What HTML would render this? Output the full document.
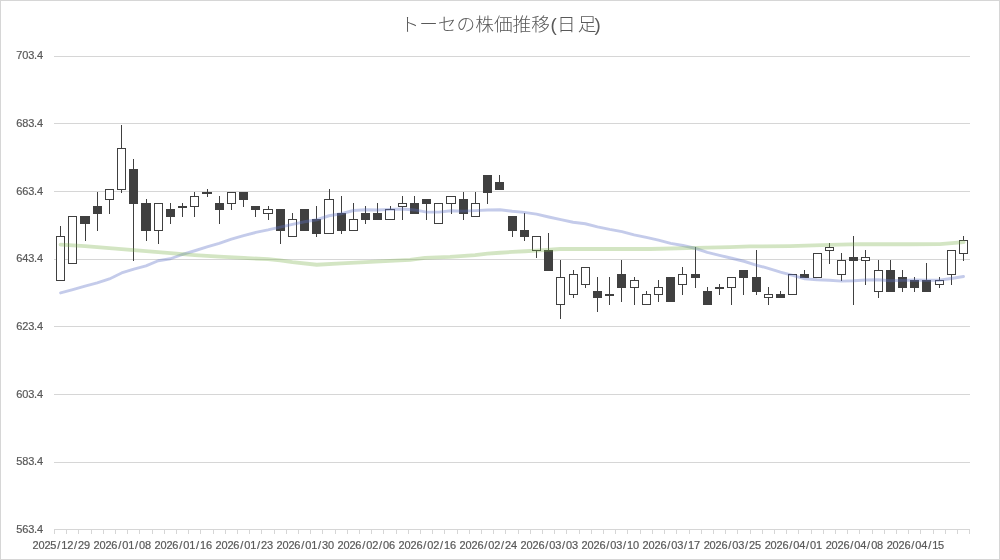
<!DOCTYPE html>
<html lang="ja"><head><meta charset="utf-8"><title>トーセの株価推移(日足)</title>
<style>html,body{margin:0;padding:0;background:#fff}svg{display:block}</style></head>
<body>
<svg width="1000" height="560" viewBox="0 0 1000 560">
<rect x="0" y="0" width="1000" height="560" fill="#fff"/>
<rect x="0.5" y="0.5" width="999" height="559" fill="none" stroke="#d6d6d6" stroke-width="1"/>
<g stroke="#d6d6d6" stroke-width="1" shape-rendering="crispEdges">
<line x1="54" y1="56.5" x2="970" y2="56.5"/>
<line x1="54" y1="123.5" x2="970" y2="123.5"/>
<line x1="54" y1="191.5" x2="970" y2="191.5"/>
<line x1="54" y1="259.5" x2="970" y2="259.5"/>
<line x1="54" y1="326.5" x2="970" y2="326.5"/>
<line x1="54" y1="394.5" x2="970" y2="394.5"/>
<line x1="54" y1="462.5" x2="970" y2="462.5"/>
<line x1="54" y1="529.5" x2="970" y2="529.5"/>
<line x1="54.5" y1="529" x2="54.5" y2="534"/>
<line x1="66.5" y1="529" x2="66.5" y2="534"/>
<line x1="78.5" y1="529" x2="78.5" y2="534"/>
<line x1="91.5" y1="529" x2="91.5" y2="534"/>
<line x1="103.5" y1="529" x2="103.5" y2="534"/>
<line x1="115.5" y1="529" x2="115.5" y2="534"/>
<line x1="127.5" y1="529" x2="127.5" y2="534"/>
<line x1="139.5" y1="529" x2="139.5" y2="534"/>
<line x1="152.5" y1="529" x2="152.5" y2="534"/>
<line x1="164.5" y1="529" x2="164.5" y2="534"/>
<line x1="176.5" y1="529" x2="176.5" y2="534"/>
<line x1="188.5" y1="529" x2="188.5" y2="534"/>
<line x1="200.5" y1="529" x2="200.5" y2="534"/>
<line x1="213.5" y1="529" x2="213.5" y2="534"/>
<line x1="225.5" y1="529" x2="225.5" y2="534"/>
<line x1="237.5" y1="529" x2="237.5" y2="534"/>
<line x1="249.5" y1="529" x2="249.5" y2="534"/>
<line x1="261.5" y1="529" x2="261.5" y2="534"/>
<line x1="274.5" y1="529" x2="274.5" y2="534"/>
<line x1="286.5" y1="529" x2="286.5" y2="534"/>
<line x1="298.5" y1="529" x2="298.5" y2="534"/>
<line x1="310.5" y1="529" x2="310.5" y2="534"/>
<line x1="322.5" y1="529" x2="322.5" y2="534"/>
<line x1="335.5" y1="529" x2="335.5" y2="534"/>
<line x1="347.5" y1="529" x2="347.5" y2="534"/>
<line x1="359.5" y1="529" x2="359.5" y2="534"/>
<line x1="371.5" y1="529" x2="371.5" y2="534"/>
<line x1="383.5" y1="529" x2="383.5" y2="534"/>
<line x1="396.5" y1="529" x2="396.5" y2="534"/>
<line x1="408.5" y1="529" x2="408.5" y2="534"/>
<line x1="420.5" y1="529" x2="420.5" y2="534"/>
<line x1="432.5" y1="529" x2="432.5" y2="534"/>
<line x1="444.5" y1="529" x2="444.5" y2="534"/>
<line x1="457.5" y1="529" x2="457.5" y2="534"/>
<line x1="469.5" y1="529" x2="469.5" y2="534"/>
<line x1="481.5" y1="529" x2="481.5" y2="534"/>
<line x1="493.5" y1="529" x2="493.5" y2="534"/>
<line x1="505.5" y1="529" x2="505.5" y2="534"/>
<line x1="518.5" y1="529" x2="518.5" y2="534"/>
<line x1="530.5" y1="529" x2="530.5" y2="534"/>
<line x1="542.5" y1="529" x2="542.5" y2="534"/>
<line x1="554.5" y1="529" x2="554.5" y2="534"/>
<line x1="566.5" y1="529" x2="566.5" y2="534"/>
<line x1="579.5" y1="529" x2="579.5" y2="534"/>
<line x1="591.5" y1="529" x2="591.5" y2="534"/>
<line x1="603.5" y1="529" x2="603.5" y2="534"/>
<line x1="615.5" y1="529" x2="615.5" y2="534"/>
<line x1="627.5" y1="529" x2="627.5" y2="534"/>
<line x1="640.5" y1="529" x2="640.5" y2="534"/>
<line x1="652.5" y1="529" x2="652.5" y2="534"/>
<line x1="664.5" y1="529" x2="664.5" y2="534"/>
<line x1="676.5" y1="529" x2="676.5" y2="534"/>
<line x1="689.5" y1="529" x2="689.5" y2="534"/>
<line x1="701.5" y1="529" x2="701.5" y2="534"/>
<line x1="713.5" y1="529" x2="713.5" y2="534"/>
<line x1="725.5" y1="529" x2="725.5" y2="534"/>
<line x1="737.5" y1="529" x2="737.5" y2="534"/>
<line x1="750.5" y1="529" x2="750.5" y2="534"/>
<line x1="762.5" y1="529" x2="762.5" y2="534"/>
<line x1="774.5" y1="529" x2="774.5" y2="534"/>
<line x1="786.5" y1="529" x2="786.5" y2="534"/>
<line x1="798.5" y1="529" x2="798.5" y2="534"/>
<line x1="811.5" y1="529" x2="811.5" y2="534"/>
<line x1="823.5" y1="529" x2="823.5" y2="534"/>
<line x1="835.5" y1="529" x2="835.5" y2="534"/>
<line x1="847.5" y1="529" x2="847.5" y2="534"/>
<line x1="859.5" y1="529" x2="859.5" y2="534"/>
<line x1="872.5" y1="529" x2="872.5" y2="534"/>
<line x1="884.5" y1="529" x2="884.5" y2="534"/>
<line x1="896.5" y1="529" x2="896.5" y2="534"/>
<line x1="908.5" y1="529" x2="908.5" y2="534"/>
<line x1="920.5" y1="529" x2="920.5" y2="534"/>
<line x1="933.5" y1="529" x2="933.5" y2="534"/>
<line x1="945.5" y1="529" x2="945.5" y2="534"/>
<line x1="957.5" y1="529" x2="957.5" y2="534"/>
<line x1="969.5" y1="529" x2="969.5" y2="534"/>
</g>
<g font-family="'Liberation Sans', sans-serif" font-size="11" fill="#595959" stroke="#595959" stroke-width="0.2" letter-spacing="-0.15" text-anchor="end">
<text x="43" y="58.8">703.4</text>
<text x="43" y="126.8">683.4</text>
<text x="43" y="194.8">663.4</text>
<text x="43" y="261.8">643.4</text>
<text x="43" y="329.8">623.4</text>
<text x="43" y="397.8">603.4</text>
<text x="43" y="464.8">583.4</text>
<text x="43" y="532.8">563.4</text>
</g>
<g font-family="'Liberation Sans', sans-serif" font-size="11" fill="#595959" stroke="#595959" stroke-width="0.2">
<text x="32.53 38.46 44.39 50.32 57.20 61.20 67.13 74.01 78.01 83.94" y="549">2025/12/29</text>
<text x="93.54 99.47 105.40 111.33 118.21 122.21 128.14 135.02 139.02 144.95" y="549">2026/01/08</text>
<text x="154.55 160.48 166.41 172.34 179.21 183.22 189.15 196.02 200.03 205.96" y="549">2026/01/16</text>
<text x="215.56 221.49 227.42 233.35 240.22 244.23 250.16 257.03 261.04 266.97" y="549">2026/01/23</text>
<text x="276.57 282.50 288.43 294.36 301.23 305.24 311.17 318.04 322.05 327.98" y="549">2026/01/30</text>
<text x="337.58 343.51 349.44 355.37 362.24 366.25 372.18 379.05 383.06 388.99" y="549">2026/02/06</text>
<text x="398.59 404.52 410.45 416.38 423.25 427.26 433.19 440.06 444.07 450.00" y="549">2026/02/16</text>
<text x="459.59 465.52 471.45 477.38 484.26 488.26 494.19 501.07 505.07 511.00" y="549">2026/02/24</text>
<text x="520.60 526.53 532.46 538.39 545.27 549.27 555.20 562.08 566.08 572.01" y="549">2026/03/03</text>
<text x="581.61 587.54 593.47 599.40 606.28 610.28 616.21 623.09 627.09 633.02" y="549">2026/03/10</text>
<text x="642.62 648.55 654.48 660.41 667.29 671.29 677.22 684.10 688.10 694.03" y="549">2026/03/17</text>
<text x="703.63 709.56 715.49 721.42 728.30 732.30 738.23 745.11 749.11 755.04" y="549">2026/03/25</text>
<text x="764.64 770.57 776.50 782.43 789.31 793.31 799.24 806.12 810.12 816.05" y="549">2026/04/01</text>
<text x="825.65 831.58 837.51 843.44 850.31 854.32 860.25 867.12 871.13 877.06" y="549">2026/04/08</text>
<text x="886.66 892.59 898.52 904.45 911.32 915.33 921.26 928.13 932.14 938.07" y="549">2026/04/15</text>
</g>
<text x="400.5 419.2 437.8 456.5 475.2 493.9 512.5 531.2 550.4 557.1 577.7 594.4" y="31.2" font-family="'Liberation Sans', 'Noto Sans CJK JP', sans-serif" font-size="18.67" font-weight="300" fill="#595959">トーセの株価推移(日足)</text>
<g shape-rendering="crispEdges">
<line x1="60.5" y1="226" x2="60.5" y2="281" stroke="#404040" stroke-width="1"/>
<rect x="56.5" y="236.5" width="8" height="44" fill="#fff" stroke="#404040" stroke-width="1"/>
<line x1="72.5" y1="216" x2="72.5" y2="264" stroke="#404040" stroke-width="1"/>
<rect x="68.5" y="216.5" width="8" height="47" fill="#fff" stroke="#404040" stroke-width="1"/>
<line x1="85.5" y1="216" x2="85.5" y2="241" stroke="#404040" stroke-width="1"/>
<rect x="80.5" y="216.5" width="9" height="7" fill="#404040" stroke="#404040" stroke-width="1"/>
<line x1="97.5" y1="192" x2="97.5" y2="231" stroke="#404040" stroke-width="1"/>
<rect x="93.5" y="206.5" width="8" height="7" fill="#404040" stroke="#404040" stroke-width="1"/>
<line x1="109.5" y1="189" x2="109.5" y2="214" stroke="#404040" stroke-width="1"/>
<rect x="105.5" y="189.5" width="8" height="10" fill="#fff" stroke="#404040" stroke-width="1"/>
<line x1="121.5" y1="125" x2="121.5" y2="193" stroke="#404040" stroke-width="1"/>
<rect x="117.5" y="148.5" width="8" height="41" fill="#fff" stroke="#404040" stroke-width="1"/>
<line x1="133.5" y1="159" x2="133.5" y2="261" stroke="#404040" stroke-width="1"/>
<rect x="129.5" y="169.5" width="8" height="34" fill="#404040" stroke="#404040" stroke-width="1"/>
<line x1="146.5" y1="199" x2="146.5" y2="241" stroke="#404040" stroke-width="1"/>
<rect x="141.5" y="203.5" width="9" height="27" fill="#404040" stroke="#404040" stroke-width="1"/>
<line x1="158.5" y1="203" x2="158.5" y2="244" stroke="#404040" stroke-width="1"/>
<rect x="154.5" y="203.5" width="8" height="27" fill="#fff" stroke="#404040" stroke-width="1"/>
<line x1="170.5" y1="203" x2="170.5" y2="224" stroke="#404040" stroke-width="1"/>
<rect x="166.5" y="209.5" width="8" height="7" fill="#404040" stroke="#404040" stroke-width="1"/>
<line x1="182.5" y1="203" x2="182.5" y2="217" stroke="#404040" stroke-width="1"/>
<rect x="178" y="206" width="9" height="2" fill="#404040"/>
<line x1="194.5" y1="192" x2="194.5" y2="217" stroke="#404040" stroke-width="1"/>
<rect x="190.5" y="196.5" width="8" height="10" fill="#fff" stroke="#404040" stroke-width="1"/>
<line x1="207.5" y1="189" x2="207.5" y2="197" stroke="#404040" stroke-width="1"/>
<rect x="202" y="192" width="10" height="2" fill="#404040"/>
<line x1="219.5" y1="196" x2="219.5" y2="224" stroke="#404040" stroke-width="1"/>
<rect x="215.5" y="203.5" width="8" height="6" fill="#404040" stroke="#404040" stroke-width="1"/>
<line x1="231.5" y1="192" x2="231.5" y2="210" stroke="#404040" stroke-width="1"/>
<rect x="227.5" y="192.5" width="8" height="11" fill="#fff" stroke="#404040" stroke-width="1"/>
<line x1="243.5" y1="192" x2="243.5" y2="207" stroke="#404040" stroke-width="1"/>
<rect x="239.5" y="192.5" width="8" height="7" fill="#404040" stroke="#404040" stroke-width="1"/>
<line x1="255.5" y1="206" x2="255.5" y2="217" stroke="#404040" stroke-width="1"/>
<rect x="251.5" y="206.5" width="8" height="3" fill="#404040" stroke="#404040" stroke-width="1"/>
<line x1="268.5" y1="206" x2="268.5" y2="220" stroke="#404040" stroke-width="1"/>
<rect x="263.5" y="209.5" width="9" height="4" fill="#fff" stroke="#404040" stroke-width="1"/>
<line x1="280.5" y1="209" x2="280.5" y2="244" stroke="#404040" stroke-width="1"/>
<rect x="276.5" y="209.5" width="8" height="21" fill="#404040" stroke="#404040" stroke-width="1"/>
<line x1="292.5" y1="213" x2="292.5" y2="237" stroke="#404040" stroke-width="1"/>
<rect x="288.5" y="219.5" width="8" height="17" fill="#fff" stroke="#404040" stroke-width="1"/>
<line x1="304.5" y1="209" x2="304.5" y2="231" stroke="#404040" stroke-width="1"/>
<rect x="300.5" y="209.5" width="8" height="21" fill="#404040" stroke="#404040" stroke-width="1"/>
<line x1="316.5" y1="206" x2="316.5" y2="237" stroke="#404040" stroke-width="1"/>
<rect x="312.5" y="219.5" width="8" height="14" fill="#404040" stroke="#404040" stroke-width="1"/>
<line x1="329.5" y1="189" x2="329.5" y2="234" stroke="#404040" stroke-width="1"/>
<rect x="324.5" y="199.5" width="9" height="34" fill="#fff" stroke="#404040" stroke-width="1"/>
<line x1="341.5" y1="196" x2="341.5" y2="234" stroke="#404040" stroke-width="1"/>
<rect x="337.5" y="213.5" width="8" height="17" fill="#404040" stroke="#404040" stroke-width="1"/>
<line x1="353.5" y1="203" x2="353.5" y2="231" stroke="#404040" stroke-width="1"/>
<rect x="349.5" y="219.5" width="8" height="11" fill="#fff" stroke="#404040" stroke-width="1"/>
<line x1="365.5" y1="206" x2="365.5" y2="224" stroke="#404040" stroke-width="1"/>
<rect x="361.5" y="213.5" width="8" height="6" fill="#404040" stroke="#404040" stroke-width="1"/>
<line x1="377.5" y1="203" x2="377.5" y2="220" stroke="#404040" stroke-width="1"/>
<rect x="373.5" y="213.5" width="8" height="6" fill="#404040" stroke="#404040" stroke-width="1"/>
<line x1="390.5" y1="206" x2="390.5" y2="220" stroke="#404040" stroke-width="1"/>
<rect x="385.5" y="209.5" width="9" height="10" fill="#fff" stroke="#404040" stroke-width="1"/>
<line x1="402.5" y1="196" x2="402.5" y2="220" stroke="#404040" stroke-width="1"/>
<rect x="398.5" y="203.5" width="8" height="3" fill="#fff" stroke="#404040" stroke-width="1"/>
<line x1="414.5" y1="196" x2="414.5" y2="214" stroke="#404040" stroke-width="1"/>
<rect x="410.5" y="203.5" width="8" height="10" fill="#404040" stroke="#404040" stroke-width="1"/>
<line x1="426.5" y1="199" x2="426.5" y2="220" stroke="#404040" stroke-width="1"/>
<rect x="422.5" y="199.5" width="8" height="4" fill="#404040" stroke="#404040" stroke-width="1"/>
<line x1="438.5" y1="203" x2="438.5" y2="224" stroke="#404040" stroke-width="1"/>
<rect x="434.5" y="203.5" width="8" height="20" fill="#fff" stroke="#404040" stroke-width="1"/>
<line x1="451.5" y1="196" x2="451.5" y2="214" stroke="#404040" stroke-width="1"/>
<rect x="446.5" y="196.5" width="9" height="7" fill="#fff" stroke="#404040" stroke-width="1"/>
<line x1="463.5" y1="192" x2="463.5" y2="220" stroke="#404040" stroke-width="1"/>
<rect x="459.5" y="199.5" width="8" height="14" fill="#404040" stroke="#404040" stroke-width="1"/>
<line x1="475.5" y1="192" x2="475.5" y2="217" stroke="#404040" stroke-width="1"/>
<rect x="471.5" y="203.5" width="8" height="13" fill="#fff" stroke="#404040" stroke-width="1"/>
<line x1="487.5" y1="175" x2="487.5" y2="204" stroke="#404040" stroke-width="1"/>
<rect x="483.5" y="175.5" width="8" height="17" fill="#404040" stroke="#404040" stroke-width="1"/>
<line x1="499.5" y1="175" x2="499.5" y2="190" stroke="#404040" stroke-width="1"/>
<rect x="495.5" y="182.5" width="8" height="7" fill="#404040" stroke="#404040" stroke-width="1"/>
<line x1="512.5" y1="216" x2="512.5" y2="237" stroke="#404040" stroke-width="1"/>
<rect x="508.5" y="216.5" width="8" height="14" fill="#404040" stroke="#404040" stroke-width="1"/>
<line x1="524.5" y1="213" x2="524.5" y2="241" stroke="#404040" stroke-width="1"/>
<rect x="520.5" y="230.5" width="8" height="6" fill="#404040" stroke="#404040" stroke-width="1"/>
<line x1="536.5" y1="236" x2="536.5" y2="258" stroke="#404040" stroke-width="1"/>
<rect x="532.5" y="236.5" width="8" height="14" fill="#fff" stroke="#404040" stroke-width="1"/>
<line x1="548.5" y1="233" x2="548.5" y2="271" stroke="#404040" stroke-width="1"/>
<rect x="544.5" y="250.5" width="8" height="20" fill="#404040" stroke="#404040" stroke-width="1"/>
<line x1="560.5" y1="260" x2="560.5" y2="319" stroke="#404040" stroke-width="1"/>
<rect x="556.5" y="277.5" width="8" height="27" fill="#fff" stroke="#404040" stroke-width="1"/>
<line x1="573.5" y1="270" x2="573.5" y2="298" stroke="#404040" stroke-width="1"/>
<rect x="569.5" y="274.5" width="8" height="20" fill="#fff" stroke="#404040" stroke-width="1"/>
<line x1="585.5" y1="267" x2="585.5" y2="288" stroke="#404040" stroke-width="1"/>
<rect x="581.5" y="267.5" width="8" height="17" fill="#fff" stroke="#404040" stroke-width="1"/>
<line x1="597.5" y1="277" x2="597.5" y2="312" stroke="#404040" stroke-width="1"/>
<rect x="593.5" y="291.5" width="8" height="6" fill="#404040" stroke="#404040" stroke-width="1"/>
<line x1="609.5" y1="277" x2="609.5" y2="305" stroke="#404040" stroke-width="1"/>
<rect x="605" y="294" width="9" height="2" fill="#404040"/>
<line x1="621.5" y1="260" x2="621.5" y2="302" stroke="#404040" stroke-width="1"/>
<rect x="617.5" y="274.5" width="8" height="13" fill="#404040" stroke="#404040" stroke-width="1"/>
<line x1="634.5" y1="277" x2="634.5" y2="305" stroke="#404040" stroke-width="1"/>
<rect x="630.5" y="280.5" width="8" height="7" fill="#fff" stroke="#404040" stroke-width="1"/>
<line x1="646.5" y1="291" x2="646.5" y2="305" stroke="#404040" stroke-width="1"/>
<rect x="642.5" y="294.5" width="8" height="10" fill="#fff" stroke="#404040" stroke-width="1"/>
<line x1="658.5" y1="280" x2="658.5" y2="302" stroke="#404040" stroke-width="1"/>
<rect x="654.5" y="287.5" width="8" height="7" fill="#fff" stroke="#404040" stroke-width="1"/>
<line x1="670.5" y1="277" x2="670.5" y2="302" stroke="#404040" stroke-width="1"/>
<rect x="666.5" y="277.5" width="8" height="24" fill="#404040" stroke="#404040" stroke-width="1"/>
<line x1="682.5" y1="267" x2="682.5" y2="295" stroke="#404040" stroke-width="1"/>
<rect x="678.5" y="274.5" width="8" height="10" fill="#fff" stroke="#404040" stroke-width="1"/>
<line x1="695.5" y1="247" x2="695.5" y2="288" stroke="#404040" stroke-width="1"/>
<rect x="691.5" y="274.5" width="8" height="3" fill="#404040" stroke="#404040" stroke-width="1"/>
<line x1="707.5" y1="287" x2="707.5" y2="305" stroke="#404040" stroke-width="1"/>
<rect x="703.5" y="291.5" width="8" height="13" fill="#404040" stroke="#404040" stroke-width="1"/>
<line x1="719.5" y1="284" x2="719.5" y2="295" stroke="#404040" stroke-width="1"/>
<rect x="715" y="287" width="9" height="2" fill="#404040"/>
<line x1="731.5" y1="277" x2="731.5" y2="305" stroke="#404040" stroke-width="1"/>
<rect x="727.5" y="277.5" width="8" height="10" fill="#fff" stroke="#404040" stroke-width="1"/>
<line x1="743.5" y1="270" x2="743.5" y2="295" stroke="#404040" stroke-width="1"/>
<rect x="739.5" y="270.5" width="8" height="7" fill="#404040" stroke="#404040" stroke-width="1"/>
<line x1="756.5" y1="250" x2="756.5" y2="295" stroke="#404040" stroke-width="1"/>
<rect x="752.5" y="277.5" width="8" height="14" fill="#404040" stroke="#404040" stroke-width="1"/>
<line x1="768.5" y1="287" x2="768.5" y2="305" stroke="#404040" stroke-width="1"/>
<rect x="764.5" y="294.5" width="8" height="3" fill="#fff" stroke="#404040" stroke-width="1"/>
<line x1="780.5" y1="291" x2="780.5" y2="298" stroke="#404040" stroke-width="1"/>
<rect x="776.5" y="294.5" width="8" height="3" fill="#404040" stroke="#404040" stroke-width="1"/>
<line x1="792.5" y1="274" x2="792.5" y2="295" stroke="#404040" stroke-width="1"/>
<rect x="788.5" y="274.5" width="8" height="20" fill="#fff" stroke="#404040" stroke-width="1"/>
<line x1="804.5" y1="270" x2="804.5" y2="278" stroke="#404040" stroke-width="1"/>
<rect x="800.5" y="274.5" width="8" height="3" fill="#404040" stroke="#404040" stroke-width="1"/>
<line x1="817.5" y1="253" x2="817.5" y2="278" stroke="#404040" stroke-width="1"/>
<rect x="813.5" y="253.5" width="8" height="24" fill="#fff" stroke="#404040" stroke-width="1"/>
<line x1="829.5" y1="243" x2="829.5" y2="264" stroke="#404040" stroke-width="1"/>
<rect x="825.5" y="247.5" width="8" height="3" fill="#fff" stroke="#404040" stroke-width="1"/>
<line x1="841.5" y1="253" x2="841.5" y2="281" stroke="#404040" stroke-width="1"/>
<rect x="837.5" y="260.5" width="8" height="14" fill="#fff" stroke="#404040" stroke-width="1"/>
<line x1="853.5" y1="236" x2="853.5" y2="305" stroke="#404040" stroke-width="1"/>
<rect x="849.5" y="257.5" width="8" height="3" fill="#404040" stroke="#404040" stroke-width="1"/>
<line x1="865.5" y1="250" x2="865.5" y2="285" stroke="#404040" stroke-width="1"/>
<rect x="861.5" y="257.5" width="8" height="3" fill="#fff" stroke="#404040" stroke-width="1"/>
<line x1="878.5" y1="260" x2="878.5" y2="298" stroke="#404040" stroke-width="1"/>
<rect x="874.5" y="270.5" width="8" height="21" fill="#fff" stroke="#404040" stroke-width="1"/>
<line x1="890.5" y1="260" x2="890.5" y2="292" stroke="#404040" stroke-width="1"/>
<rect x="886.5" y="270.5" width="8" height="21" fill="#404040" stroke="#404040" stroke-width="1"/>
<line x1="902.5" y1="270" x2="902.5" y2="292" stroke="#404040" stroke-width="1"/>
<rect x="898.5" y="277.5" width="8" height="10" fill="#404040" stroke="#404040" stroke-width="1"/>
<line x1="914.5" y1="277" x2="914.5" y2="292" stroke="#404040" stroke-width="1"/>
<rect x="910.5" y="280.5" width="8" height="7" fill="#404040" stroke="#404040" stroke-width="1"/>
<line x1="926.5" y1="263" x2="926.5" y2="292" stroke="#404040" stroke-width="1"/>
<rect x="922.5" y="280.5" width="8" height="11" fill="#404040" stroke="#404040" stroke-width="1"/>
<line x1="939.5" y1="277" x2="939.5" y2="288" stroke="#404040" stroke-width="1"/>
<rect x="935.5" y="280.5" width="8" height="4" fill="#fff" stroke="#404040" stroke-width="1"/>
<line x1="951.5" y1="250" x2="951.5" y2="285" stroke="#404040" stroke-width="1"/>
<rect x="947.5" y="250.5" width="8" height="24" fill="#fff" stroke="#404040" stroke-width="1"/>
<line x1="963.5" y1="236" x2="963.5" y2="261" stroke="#404040" stroke-width="1"/>
<rect x="959.5" y="240.5" width="8" height="13" fill="#fff" stroke="#404040" stroke-width="1"/>
</g>
<path d="M60.6,292.95 L72.8,289.65 L85.0,286.15 L97.2,282.95 L109.4,278.95 L121.6,272.95 L133.8,269.05 L146.0,265.95 L158.2,260.75 L170.4,258.75 L182.6,254.45 L194.8,250.75 L207.0,246.95 L219.2,243.35 L231.4,239.15 L243.6,235.55 L255.8,232.45 L268.0,229.95 L280.2,227.05 L292.4,224.35 L304.6,221.75 L316.8,219.75 L329.0,215.75 L341.2,213.75 L353.4,210.48 L365.6,209.8 L377.8,209.93 L390.1,209.39 L402.3,208.99 L414.5,209.93 L426.7,212.1 L438.9,212.1 L451.1,210.75 L463.3,211.15 L475.5,210.61 L487.7,210.07 L499.9,209.8 L512.1,211.29 L524.3,212.37 L536.5,214.13 L548.7,216.98 L560.9,219.68 L573.1,222.26 L585.3,223.75 L597.5,226.86 L609.7,229.43 L621.9,231.6 L634.1,234.85 L646.3,237.42 L658.5,240.13 L670.7,243.38 L682.9,245.54 L695.1,248.25 L707.3,252.31 L719.5,255.29 L731.7,258.27 L743.9,261.25 L756.1,265.04 L768.3,268.29 L780.5,272.08 L792.7,275.33 L804.9,278.85 L817.1,279.8 L829.3,280.21 L841.5,281.15 L853.7,280.75 L865.9,279.94 L878.1,279.8 L890.3,280.75 L902.5,280.34 L914.7,280.07 L926.9,280.21 L939.1,280.21 L951.3,278.45 L963.5,276.55" fill="none" stroke="#5f72c5" stroke-opacity="0.37" stroke-width="2.9" stroke-linejoin="round" stroke-linecap="round"/>
<path d="M60.6,244.55 L85,246.2 L109.4,248.05 L133.8,250.2 L158.2,252.05 L170.4,253.2 L194.8,255.05 L219.2,256.7 L243.6,257.95 L268,259.2 L280.2,260.45 L292.4,262.1 L316.8,264.75 L341.2,263.3 L365.6,262.1 L390,260.95 L410,259.85 L425,257.95 L450,256.85 L475,255.15 L487.5,253.6 L500,252.75 L512.5,251.85 L525,251.25 L536,250.55 L560,249.0 L630,249.0 L650,249.0 L696,247.85 L730,247.05 L750,246.45 L790,246.05 L830,244.85 L860,244.05 L910,244.25 L940,244.05 L952,243.05 L963.6,242.05" fill="none" stroke="#78b048" stroke-opacity="0.33" stroke-width="3.8" stroke-linejoin="round" stroke-linecap="round"/>
</svg>
</body></html>
